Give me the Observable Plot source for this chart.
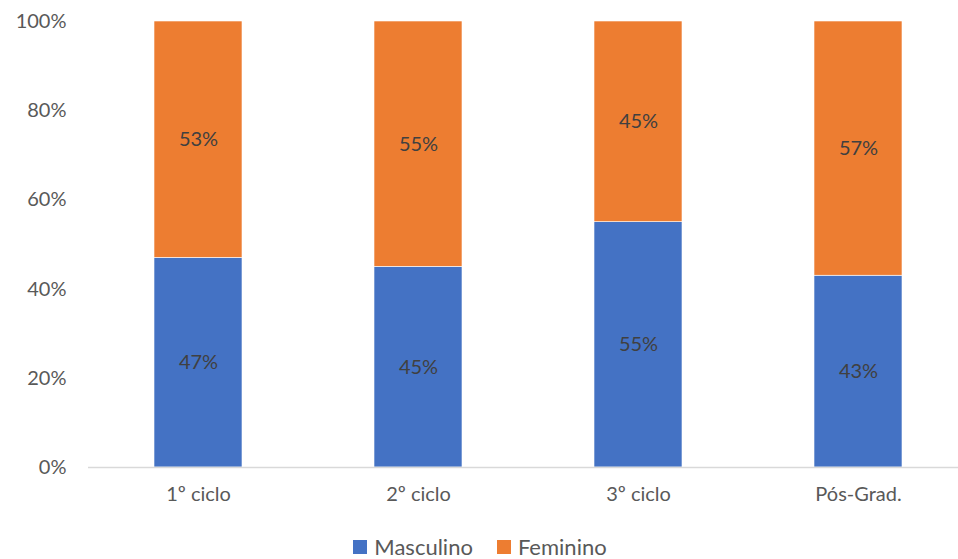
<!DOCTYPE html>
<html>
<head>
<meta charset="utf-8">
<script src="https://cdn.jsdelivr.net/npm/d3@7"></script>
<script src="https://cdn.jsdelivr.net/npm/@observablehq/plot@0.6"></script>
<style>
  body { margin: 0; background: #fff; font-family: Lato, "Open Sans", sans-serif; overflow: hidden; }
  #legend { display: flex; justify-content: center; gap: 24px; font-size: 22px; line-height: 22px; height: 22px; color: #595959; margin-top: 16px; padding-left: 2px; }
  #legend span.item { display: flex; align-items: center; gap: 7px; }
  #legend span.sw { width: 14px; height: 14px; display: inline-block; }
</style>
</head>
<body>
<div id="chart"></div>
<script>
const categories = ["1º ciclo", "2º ciclo", "3º ciclo", "Pós-Grad."];
const series = ["Masculino", "Feminino"];
const masculino = [47, 45, 55, 43];
const feminino = [53, 55, 45, 57];
const colors = ["#4472C4", "#ED7D31"];
const yTicks = [0, 20, 40, 60, 80, 100];

const data = [];
categories.forEach((c, i) => {
  data.push({ ciclo: c, sexo: series[0], value: masculino[i] });
  data.push({ ciclo: c, sexo: series[1], value: feminino[i] });
});

const plot = Plot.plot({
  width: 958,
  height: 520,
  marginLeft: 88,
  marginRight: -10,
  marginTop: 21,
  marginBottom: 53,
  style: { fontFamily: "Lato, 'Open Sans', sans-serif", fontSize: "20px", color: "#595959", background: "#fff" },
  x: { domain: categories, paddingInner: 0.6, paddingOuter: 0.3, label: null },
  y: { domain: [0, 100], label: null },
  color: { domain: series, range: colors },
  marks: [
    Plot.barY(data, Plot.stackY({ x: "ciclo", y: "value", fill: "sexo", z: "sexo", stroke: "white", strokeWidth: 0.6 })),
    Plot.ruleY([0], { stroke: "#d9d9d9", strokeWidth: 1.5 }),
    Plot.text(data, Plot.stackY({ x: "ciclo", y: "value", z: "sexo", text: d => d.value + "%", fill: "#404040", fontSize: 20 })),
    Plot.axisX({ tickSize: 0, tickPadding: 19, fill: "#595959", fontSize: 20 }),
    Plot.axisY({ ticks: yTicks, tickFormat: d => d + "%", tickSize: 0, tickPadding: 22, fill: "#595959", fontSize: 20 })
  ]
});
document.getElementById("chart").appendChild(plot);

const legend = document.createElement("div");
legend.id = "legend";
series.forEach((s, i) => {
  const item = document.createElement("span");
  item.className = "item";
  const sw = document.createElement("span");
  sw.className = "sw";
  sw.style.background = colors[i];
  item.appendChild(sw);
  item.appendChild(document.createTextNode(s));
  legend.appendChild(item);
});
document.getElementById("chart").appendChild(legend);
</script>
</body>
</html>
